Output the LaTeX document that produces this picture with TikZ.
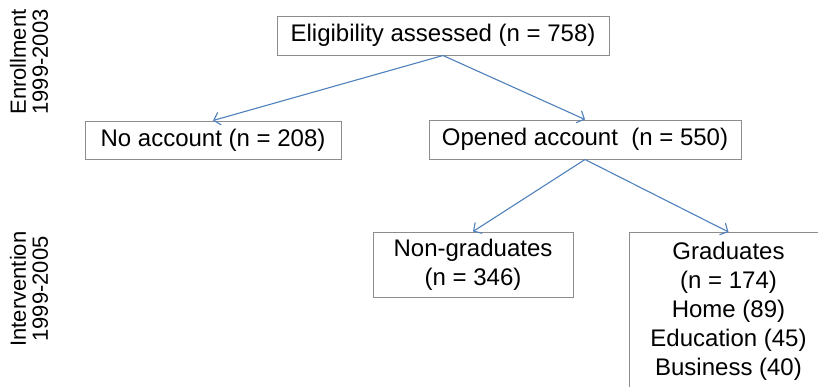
\documentclass[tikz,border=0pt]{standalone}
\usepackage{fontspec}
\setmainfont{Liberation Sans}
\usetikzlibrary{arrows.meta}
\definecolor{boxgray}{HTML}{8C8C8C}
\definecolor{arrowblue}{HTML}{4F81BD}
\begin{document}
\begin{tikzpicture}[x=1pt,y=-1pt,
  stagebox/.style={draw=boxgray, line width=1pt, fill=white, inner sep=0pt,
    align=center, font=\fontsize{24}{29}\selectfont},
  sidelabel/.style={rotate=90, align=center, inner sep=0pt,
    font=\fontsize{22}{22}\selectfont},
  flow/.style={draw=arrowblue, line width=1.1pt,
    -{Straight Barb[length=6pt,width=13pt,line width=1.1pt]}}]
\useasboundingbox (0,0) rectangle (818,386);
\clip (0,0) rectangle (818,386);
\fill[white] (0,0) rectangle (818,386);

\node[sidelabel] (enr) at (29,62) {Enrollment\\1999-2003};
\node[sidelabel] (int) at (29,289) {Intervention\\1999-2005};

\node[stagebox, minimum width=332pt, minimum height=39pt] (elig) at (443,35.5) {Eligibility assessed (n = 758)};
\node[stagebox, minimum width=256pt, minimum height=38pt] (noacc) at (213,140) {No account (n = 208)};
\node[stagebox, minimum width=312pt, minimum height=39pt] (open) at (585,139.5) {Opened account~~(n = 550)};
\node[stagebox, minimum width=200pt, minimum height=65pt] (nongrad) at (473,264.5) {Non-graduates\\(n = 346)};
\node[stagebox, minimum width=198pt, minimum height=158pt, anchor=north west] (grad) at (629,232) {Graduates\\(n = 174)\\Home (89)\\Education (45)\\Business (40)};

\draw[flow] (elig.south) -- (noacc.north);
\draw[flow] (elig.south) -- (open.north);
\draw[flow] (open.south) -- (nongrad.north);
\draw[flow] (open.south) -- (grad.north);
\end{tikzpicture}
\end{document}
